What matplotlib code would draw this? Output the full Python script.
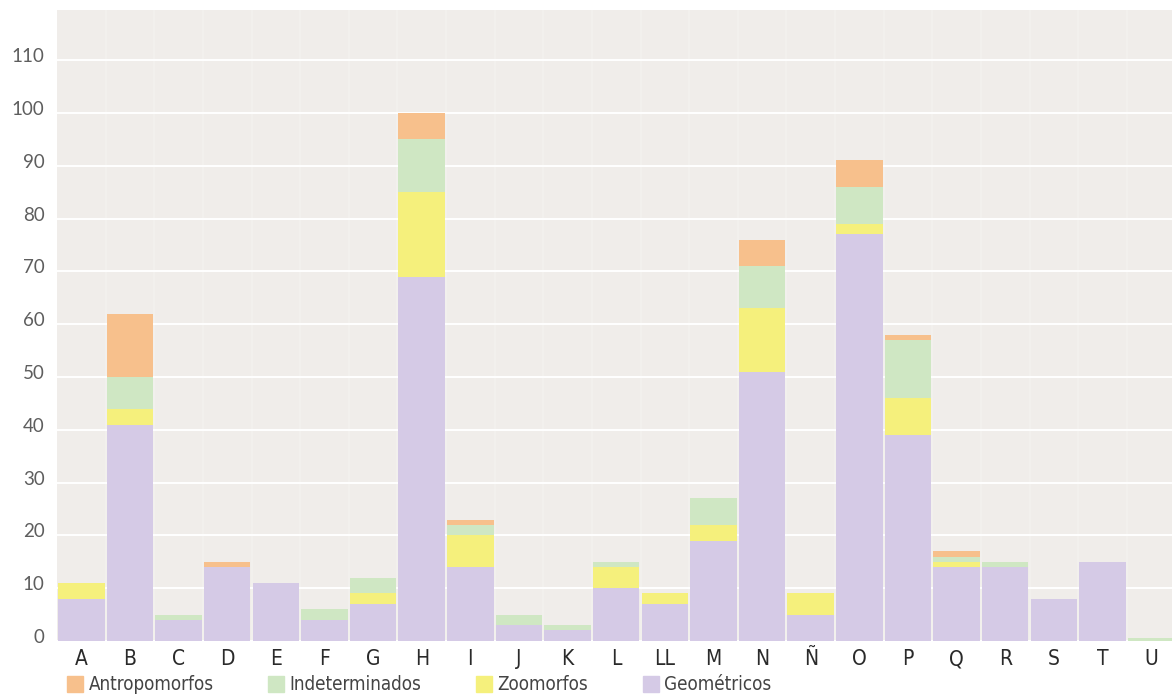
import matplotlib
matplotlib.use("Agg")
import matplotlib.pyplot as plt
import matplotlib.transforms as mtransforms
from matplotlib.patches import Patch
from matplotlib.font_manager import FontProperties
import numpy as np

categories = ['A', 'B', 'C', 'D', 'E', 'F', 'G', 'H', 'I', 'J', 'K', 'L', 'LL',
              'M', 'N', 'Ñ', 'O', 'P', 'Q', 'R', 'S', 'T', 'U']
geometricos = [8, 41, 4, 14, 11, 4, 7, 69, 14, 3, 2, 10, 7, 19, 51, 5, 77, 39, 14, 14, 8, 15, 0]
zoomorfos = [3, 3, 0, 0, 0, 0, 2, 16, 6, 0, 0, 4, 2, 3, 12, 4, 2, 7, 1, 0, 0, 0, 0]
indeterminados = [0, 6, 1, 0, 0, 2, 3, 10, 2, 2, 1, 1, 0, 5, 8, 0, 7, 11, 1, 1, 0, 0, 0.5]
antropomorfos = [0, 12, 0, 1, 0, 0, 0, 5, 1, 0, 0, 0, 0, 0, 5, 0, 5, 1, 1, 0, 0, 0, 0]
yticks = [0, 10, 20, 30, 40, 50, 60, 70, 80, 90, 100, 110]

c_geo = '#d5cae6'
c_zoo = '#f5f07c'
c_ind = '#cfe7c3'
c_ant = '#f7c08c'
bg = '#f0edea'

W, H = 1172, 697
fig = plt.figure(figsize=(W / 100, H / 100), dpi=100)
fig.patch.set_facecolor('white')
ax = fig.add_axes([57 / W, 1 - 641 / H, 1115 / W, (641 - 10) / H])
ax.set_facecolor(bg)

x = np.arange(len(categories))
geo = np.array(geometricos, float)
zoo = np.array(zoomorfos, float)
ind = np.array(indeterminados, float)
ant = np.array(antropomorfos, float)

bw = 0.955
ax.bar(x, geo, width=bw, color=c_geo, zorder=3)
ax.bar(x, zoo, width=bw, bottom=geo, color=c_zoo, zorder=3)
ax.bar(x, ind, width=bw, bottom=geo + zoo, color=c_ind, zorder=3)
ax.bar(x, ant, width=bw, bottom=geo + zoo + ind, color=c_ant, zorder=3)

for b in x[:-1] + 0.5:
    ax.axvline(b, color='white', lw=1.2, alpha=0.22, zorder=1)

ax.set_xlim(-0.5, 22.43)
ax.set_ylim(0, 119.5)
ax.set_yticks(yticks)
ax.yaxis.grid(True, color='white', lw=1.4, zorder=2)
ax.set_axisbelow(True)
for s in ax.spines.values():
    s.set_visible(False)
ax.tick_params(axis='both', length=0)
ax.tick_params(axis='y', pad=9)
ax.tick_params(axis='x', pad=6)

narrow = FontProperties(family='DejaVu Sans', stretch='condensed', size=15)
ax.set_xticks(x)
ax.set_xticklabels(categories, color='#2a2a2a', fontproperties=narrow)
ax.set_yticklabels([str(v) for v in yticks], fontsize=13.5, color='#5e5e5e',
                   family=['Lato', 'DejaVu Sans'])
off = mtransforms.ScaledTranslation(0, 5 / 100, fig.dpi_scale_trans)
for lbl in ax.get_yticklabels():
    lbl.set_transform(lbl.get_transform() + off)

handles = [Patch(color=c_ant, label='Antropomorfos'),
           Patch(color=c_ind, label='Indeterminados'),
           Patch(color=c_zoo, label='Zoomorfos'),
           Patch(color=c_geo, label='Geométricos')]
legfont = FontProperties(family='DejaVu Sans', stretch='condensed', size=13.5)
leg = fig.legend(handles=handles, loc='center left', ncol=4,
                 bbox_to_anchor=(67 / W, 1 - 685 / H), frameon=False,
                 prop=legfont,
                 handlelength=0.85, handleheight=0.95, handletextpad=0.3,
                 columnspacing=2.9, borderpad=0, borderaxespad=0)
for t in leg.get_texts():
    t.set_color('#444444')

fig.savefig('out.png', dpi=100)
